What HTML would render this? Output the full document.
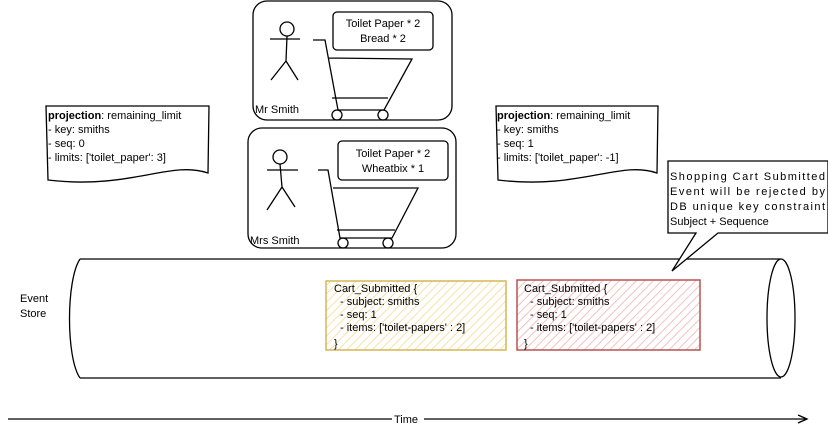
<!DOCTYPE html>
<html><head><meta charset="utf-8"><style>
body{margin:0;background:#fff;width:828px;height:429px;overflow:hidden}
svg{display:block}
text{font-family:"Liberation Sans",sans-serif;font-size:11px;fill:#000}
</style></head><body>
<svg width="828" height="429" viewBox="0 0 828 429" xmlns="http://www.w3.org/2000/svg">
<defs>
<pattern id="hy" width="6" height="6" patternUnits="userSpaceOnUse" patternTransform="rotate(45)"><rect width="6" height="6" fill="#fff"/><line x1="0" y1="0" x2="0" y2="6" stroke="#f5e2a8" stroke-width="2"/></pattern>
<pattern id="hr" width="6" height="6" patternUnits="userSpaceOnUse" patternTransform="rotate(45)"><rect width="6" height="6" fill="#fff"/><line x1="0" y1="0" x2="0" y2="6" stroke="#f3c2c0" stroke-width="2"/></pattern>
</defs>
<g fill="none" stroke="#000" stroke-width="1.3">
<path d="M80 259 L781 259 M80 378 L781 378"/>
<path d="M80 259 C66 280 66 358 80 378"/>
<ellipse cx="781" cy="318" rx="14" ry="59" fill="#fff"/>
<path d="M8 419 L806 419"/>
<path d="M798 415 L807 419 L798 423"/>
<rect x="253" y="1" width="199" height="119" rx="14"/>
<rect x="248" y="128" width="208" height="120" rx="14"/>
<rect x="333" y="12" width="100" height="38" rx="4"/>
<rect x="338" y="141" width="110" height="39" rx="4"/>
<circle cx="287" cy="29" r="7"/>
<path d="M287 36 L286 61 M270 39 L300 39 M286 61 L271 80 M286 61 L298 80"/>
<circle cx="280" cy="157" r="7"/>
<path d="M280 164 L282 187 M267 170 L298 170 M282 187 L267 210 M282 187 L295 207"/>
<path d="M313 40 L325 40 L338 110 L384 110 L412 59 L328 58"/>
<path d="M332 98 L388 98"/>
<circle cx="337" cy="115" r="5"/><circle cx="383" cy="115" r="5"/>
<path d="M318 170 L328 170 L340 238 L392 238 L418 188 L333 188"/>
<path d="M337 230 L395 230"/>
<circle cx="343" cy="243" r="5"/><circle cx="388" cy="243" r="5"/>
<path d="M46 106 L209 106 L208 173 C170 160 130 190 48 180 Z" fill="#fff"/>
<path d="M496 106 L658 106 L657 173 C620 160 580 190 498 180 Z" fill="#fff"/>
<path d="M668 161 L828 161 L828 233 L718 233 L672 271 L696 233 L668 233 Z" fill="#fff"/>
</g>
<rect x="326" y="281" width="180" height="69" fill="url(#hy)" stroke="#d6b656" stroke-width="1.5"/>
<rect x="517" y="280" width="183" height="70" fill="url(#hr)" stroke="#b85450" stroke-width="1.5"/>
<rect x="392" y="412" width="32" height="14" fill="#fff"/>
<text x="394" y="423">Time</text>
<text x="383" y="27" text-anchor="middle">Toilet Paper * 2</text>
<text x="383" y="42" text-anchor="middle">Bread * 2</text>
<text x="393" y="157" text-anchor="middle">Toilet Paper * 2</text>
<text x="393" y="172" text-anchor="middle">Wheatbix * 1</text>
<text x="255" y="113">Mr Smith</text>
<text x="250" y="244">Mrs Smith</text>
<text x="20" y="302">Event</text>
<text x="20" y="317">Store</text>
<text x="48" y="119"><tspan font-weight="bold">projection</tspan>: remaining_limit</text>
<text x="48" y="133">- key: smiths</text>
<text x="48" y="147">- seq: 0</text>
<text x="48" y="161">- limits: ['toilet_paper': 3]</text>
<text x="497" y="119"><tspan font-weight="bold">projection</tspan>: remaining_limit</text>
<text x="497" y="133">- key: smiths</text>
<text x="497" y="147">- seq: 1</text>
<text x="497" y="161">- limits: ['toilet_paper': -1]</text>
<text x="670" y="180" textLength="155" lengthAdjust="spacing">Shopping Cart Submitted</text>
<text x="670" y="195" textLength="155" lengthAdjust="spacing">Event will be rejected by</text>
<text x="670" y="210" textLength="155" lengthAdjust="spacing">DB unique key constraint</text>
<text x="670" y="225">Subject + Sequence</text>
<text x="334" y="292">Cart_Submitted {</text>
<text x="340" y="305">- subject: smiths</text>
<text x="340" y="318">- seq: 1</text>
<text x="340" y="331">- items: ['toilet-papers' : 2]</text>
<text x="334" y="347">}</text>
<text x="524" y="292">Cart_Submitted {</text>
<text x="530" y="305">- subject: smiths</text>
<text x="530" y="318">- seq: 1</text>
<text x="530" y="331">- items: ['toilet-papers' : 2]</text>
<text x="524" y="347">}</text>
</svg>
</body></html>
